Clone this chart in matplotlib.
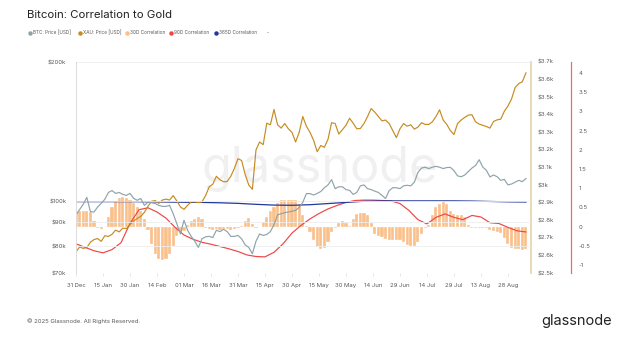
import numpy as np
import pandas as pd
import matplotlib
matplotlib.use('Agg')
import matplotlib.pyplot as plt
import matplotlib.ticker as mticker
from matplotlib.lines import Line2D

plt.rcParams['font.family'] = ['Inter', 'DejaVu Sans']

start = pd.Timestamp('2024-12-31')

# BTC price in k USD, one value every 2 days
btc_price = [93.3, 96, 98.5, 102, 95, 94.8, 97.2, 99, 101, 104.5,
             105.5, 104, 104.5, 103.5, 103, 104, 101.5, 100.5, 101.4, 98,
             99.5, 99.3, 98.9, 98, 97.5, 97.5, 98, 94, 89.5, 85,
             91, 86.6, 84, 82, 79.5, 83, 83.8, 84, 83.5, 86.6,
             86, 87, 86, 84, 84, 84.4, 83, 80.5, 79.5, 77,
             82, 85, 84.4, 84.8, 86, 89, 93.5, 94, 94.5, 94.8,
             95.2, 95.6, 97, 99.5, 103.9, 103.9, 103.2, 104, 105, 107,
             108.5, 111.4, 106.5, 107.5, 107.5, 106, 105.6, 103.5, 104.5, 108,
             108.5, 106.5, 106, 105.2, 104.5, 103, 101.4, 105.5, 107, 107,
             106.5, 108, 108.3, 108, 110, 115.5, 118, 118.5, 117.7, 118.5,
             119, 118.5, 117.7, 118.3, 118.4, 116.5, 113.5, 113, 114, 116,
             118, 119.5, 123, 118.6, 116.7, 112.9, 114, 113, 111, 111.5,
             108.5, 109, 110, 111, 110.3, 112]

# gold price in k USD, one value every 2 days
xau_price = [2.62, 2.648, 2.64, 2.645, 2.675, 2.69, 2.696, 2.68, 2.712, 2.708,
             2.72, 2.744, 2.734, 2.755, 2.753, 2.775, 2.795, 2.81, 2.822, 2.845,
             2.88, 2.908, 2.912, 2.896, 2.915, 2.92, 2.915, 2.94, 2.91, 2.876,
             2.862, 2.885, 2.905, 2.905, 2.9, 2.905, 2.94, 2.99, 3.005, 3.05,
             3.03, 3.019, 3.02, 3.05, 3.095, 3.15, 3.14, 3.06, 3.0, 2.976,
             3.2, 3.245, 3.23, 3.352, 3.343, 3.43, 3.343, 3.324, 3.35, 3.32,
             3.3, 3.245, 3.3, 3.39, 3.335, 3.3, 3.255, 3.19, 3.225, 3.215,
             3.26, 3.355, 3.35, 3.29, 3.315, 3.34, 3.38, 3.352, 3.32, 3.322,
             3.35, 3.39, 3.435, 3.415, 3.39, 3.365, 3.37, 3.35, 3.31, 3.27,
             3.32, 3.35, 3.335, 3.343, 3.318, 3.33, 3.355, 3.345, 3.345, 3.36,
             3.39, 3.428, 3.37, 3.345, 3.31, 3.288, 3.35, 3.37, 3.385, 3.398,
             3.4, 3.36, 3.347, 3.34, 3.333, 3.324, 3.362, 3.371, 3.375, 3.42,
             3.45, 3.49, 3.555, 3.577, 3.588, 3.638]

# 30 day correlation, every 2 days
corr_30d = [0.40, 0.40, 0.41, 0.40, 0.38, 0.15, -0.04, -0.06, -0.02, 0.25,
            0.5, 0.66, 0.74, 0.76, 0.74, 0.70, 0.62, 0.50, 0.40, 0.2,
            -0.1, -0.45, -0.72, -0.84, -0.86, -0.84, -0.72, -0.5, -0.25, -0.14,
            -0.12, 0.05, 0.15, 0.2, 0.26, 0.2, -0.05, -0.07, -0.08, -0.07,
            -0.08, -0.07, -0.06, -0.08, -0.07, -0.05, 0.02, 0.15, 0.22, 0.08,
            -0.03, -0.02, 0.12, 0.25, 0.4, 0.52, 0.62, 0.68, 0.7, 0.7,
            0.69, 0.68, 0.6, 0.3, 0.02, -0.15, -0.35, -0.52, -0.58, -0.56,
            -0.4, -0.15, -0.05, 0.1, 0.14, 0.1, 0.02, 0.2, 0.32, 0.36,
            0.35, 0.3, 0.1, -0.2, -0.24, -0.28, -0.32, -0.34, -0.35, -0.34,
            -0.36, -0.4, -0.47, -0.5, -0.5, -0.4, -0.2, -0.05, 0.05, 0.3,
            0.5, 0.6, 0.63, 0.6, 0.4, 0.32, 0.3, 0.3, 0.25, 0.05,
            -0.04, -0.04, -0.03, -0.04, -0.05, -0.1, -0.12, -0.15, -0.18, -0.3,
            -0.45, -0.56, -0.58, -0.58, -0.6, -0.58]

# 90 day correlation, every 5 days
corr_90d = [-0.45, -0.54, -0.63, -0.685, -0.6, -0.42, 0.08, 0.44, 0.49, 0.38,
            0.22, -0.02, -0.22, -0.33, -0.41, -0.46, -0.52, -0.58, -0.65, -0.74,
            -0.78, -0.79, -0.67, -0.45, -0.17, 0.03, 0.2, 0.34, 0.46, 0.55,
            0.63, 0.68, 0.69, 0.69, 0.68, 0.67, 0.6, 0.42, 0.18, 0.07,
            0.24, 0.33, 0.24, 0.18, 0.29, 0.25, 0.1, 0.08, -0.02, -0.11,
            -0.14]

# 365 day correlation, every 10 days
corr_365d = [0.65, 0.65, 0.65, 0.65, 0.645, 0.64, 0.635, 0.63, 0.62, 0.605,
             0.58, 0.56, 0.555, 0.57, 0.6, 0.63, 0.66, 0.67, 0.67, 0.67,
             0.67, 0.67, 0.665, 0.655, 0.645, 0.64]

d2 = pd.date_range(start, periods=len(btc_price), freq='2D')
d5 = pd.date_range(start, periods=len(corr_90d), freq='5D')
d10 = pd.date_range(start, periods=len(corr_365d), freq='10D')
xticks = pd.date_range(start, '2025-09-01', freq='15D')

c_btc = '#8fa3a9'
c_xau = '#c68b22'
c_30 = '#f9c08a'
c_90 = '#f04545'
c_365 = '#24379a'
c_txt = '#5a5a5a'

fig = plt.figure(figsize=(6.38, 3.42), dpi=100)
ax = fig.add_axes([76/638, 1-273/342, 455/638, 211/342])
ax_x = ax.twinx()
ax_c = ax.twinx()
for a, z in ((ax_c, 1), (ax_x, 2), (ax, 3)):
    a.set_zorder(z)
    a.patch.set_visible(False)

# correlations
ax_c.bar(d2, corr_30d, width=1.7, color=c_30, edgecolor='white', linewidth=0.25)
ax_c.plot(d5, corr_90d, color=c_90, lw=0.85)
ax_c.plot(d10, corr_365d, color=c_365, lw=0.9)
ax_c.set_ylim(-1.21, 4.29)
ct = [-1, -0.5, 0, 0.5, 1, 1.5, 2, 2.5, 3, 3.5, 4]
ax_c.set_yticks(ct)
ax_c.set_yticklabels(['{:g}'.format(v) for v in ct])
ax_c.spines['right'].set_position(('outward', 29))
ax_c.spines['right'].set_color('#f06a6a')
ax_c.spines['right'].set_linewidth(0.9)
for s in ('left', 'top', 'bottom'):
    ax_c.spines[s].set_visible(False)
ax_c.tick_params(axis='y', length=0, pad=5, labelsize=4.3, labelcolor=c_txt)

# gold
ax_x.plot(d2, xau_price, color=c_xau, lw=0.85)
ax_x.set_ylim(2.5, 3.7)
gt = np.round(np.arange(2.5, 3.71, 0.1), 1)
ax_x.set_yticks(gt)
ax_x.set_yticklabels(['${:g}k'.format(v) for v in gt])
ax_x.spines['right'].set_color('#ead7b5')
ax_x.spines['right'].set_linewidth(1.4)
for s in ('left', 'top', 'bottom'):
    ax_x.spines[s].set_visible(False)
ax_x.tick_params(axis='y', length=0, pad=5, labelsize=4.3, labelcolor=c_txt)

# bitcoin
ax.plot(d2, btc_price, color=c_btc, lw=0.85)
ax.set_yscale('log')
ax.set_ylim(70, 200)
bt = [70, 80, 90, 100, 200]
ax.yaxis.set_major_locator(mticker.FixedLocator(bt))
ax.yaxis.set_minor_locator(mticker.NullLocator())
ax.set_yticklabels(['${}k'.format(v) for v in bt])
ax.grid(axis='y', color='#eeeeee', lw=0.6)
ax.set_axisbelow(True)
for s in ('right', 'top', 'bottom'):
    ax.spines[s].set_visible(False)
ax.spines['left'].set_color('#dcdcdc')
ax.spines['left'].set_linewidth(0.7)
ax.tick_params(axis='y', length=0, pad=7, labelsize=4.3, labelcolor=c_txt)

ax.set_xlim(start, start + pd.Timedelta(days=252.8))
ax.set_xticks(xticks)
ax.set_xticklabels([t.strftime('%d %b') for t in xticks])
ax.tick_params(axis='x', length=2.5, width=0.5, color='#dddddd', pad=5,
               labelsize=4.3, labelcolor=c_txt)

# watermark behind the axes
fig.text(320/638, 1-182/342, 'glassnode', fontsize=35, color='#f0f0f0',
         ha='center', va='baseline', zorder=0.5)

fig.text(27/638, 1-15/342, 'Bitcoin: Correlation to Gold', fontsize=8.2,
         color='#222222', va='center')

legend = [('BTC: Price [USD]', c_btc, 30),
          ('XAU: Price [USD]', c_xau, 80),
          ('30D Correlation', c_30, 127),
          ('90D Correlation', c_90, 171),
          ('365D Correlation', c_365, 216)]
ly = 1 - 33/342
for label, col, x in legend:
    fig.add_artist(Line2D([x/638], [ly], marker='o', markersize=2.2, color=col,
                          lw=0, transform=fig.transFigure))
    fig.text((x + 3)/638, ly, label, fontsize=3.4, color=c_txt, va='center')
fig.text(267/638, ly, '-', fontsize=3.4, color=c_txt, va='center')

fig.text(27/638, 1-321/342, '\u00a9 2025 Glassnode. All Rights Reserved.',
         fontsize=4.3, color=c_txt, va='center')
fig.text(612/638, 1-321/342, 'glassnode', fontsize=10.5, color='#222222',
         ha='right', va='center')

fig.savefig('out.png', dpi=100)
